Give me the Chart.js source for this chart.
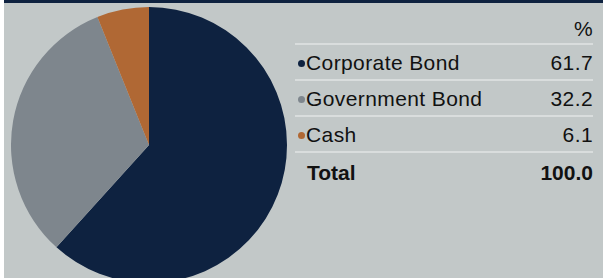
<!DOCTYPE html>
<html>
<head>
<meta charset="utf-8">
<script src="https://cdn.jsdelivr.net/npm/chart.js@4"></script>
<style>
  html, body { margin: 0; padding: 0; background: #fff; width: 609px; height: 278px; overflow: hidden; }
  #topbar { position: absolute; left: 4px; top: 0; width: 599px; height: 3px; background: #0e2240; }
  #panel { position: absolute; left: 4px; top: 3px; width: 599px; height: 275px; background: #c2c8c8; overflow: hidden; }
  #pieBox { position: absolute; left: 7px; top: 4px; width: 276px; height: 276px; }
  #legend { position: absolute; left: 291px; top: 0; width: 298px; font-family: "Liberation Sans", Arial, sans-serif; font-size: 21px; color: #111; letter-spacing: 0.4px; }
  .pct { position: absolute; right: 0; top: 14px; }
  .row { position: absolute; left: 0; width: 298px; height: 36px; border-top: 2px solid #d9dddd; }
  .row .name { position: absolute; left: 11px; top: 6px; }
  .row .val { position: absolute; right: 0; top: 6px; }
  .row .dot { position: absolute; left: 3px; top: 15px; width: 7px; height: 7px; border-radius: 50%; }
  .row.total { font-weight: bold; letter-spacing: 0; }
</style>
</head>
<body>
<div id="topbar"></div>
<div id="panel">
  <div id="pieBox"><canvas id="pie"></canvas></div>
  <div id="legend"><div class="pct">%</div></div>
</div>
<script>
const categories = ["Corporate Bond", "Government Bond", "Cash"];
const shares = [61.7, 32.2, 6.1];
const colors = ["#0e2240", "#7e868d", "#b06834"];

const legend = document.getElementById("legend");
const total = shares.reduce((a, b) => a + b, 0);

// legend rows
categories.forEach((name, i) => {
  const row = document.createElement("div");
  row.className = "row";
  row.style.top = (40 + i * 36) + "px";
  row.innerHTML = `<span class="dot" style="background:${colors[i]}"></span><span class="name">${name}</span><span class="val">${shares[i].toFixed(1)}</span>`;
  legend.appendChild(row);
});
const totalRow = document.createElement("div");
totalRow.className = "row total";
totalRow.style.top = (40 + categories.length * 36) + "px";
totalRow.innerHTML = `<span class="name" style="top:8px;left:12px">Total</span><span class="val" style="top:8px">${total.toFixed(1)}</span>`;
legend.appendChild(totalRow);

new Chart(document.getElementById("pie"), {
  type: "pie",
  data: {
    labels: categories,
    datasets: [
      {
        data: shares,
        backgroundColor: colors,
        borderWidth: 0,
      },
    ],
  },
  options: {
    responsive: true,
    maintainAspectRatio: false,
    animation: false,
    layout: { padding: 0 },
    plugins: {
      legend: { display: false },
      tooltip: { enabled: false },
    },
  },
});
</script>
</body>
</html>
